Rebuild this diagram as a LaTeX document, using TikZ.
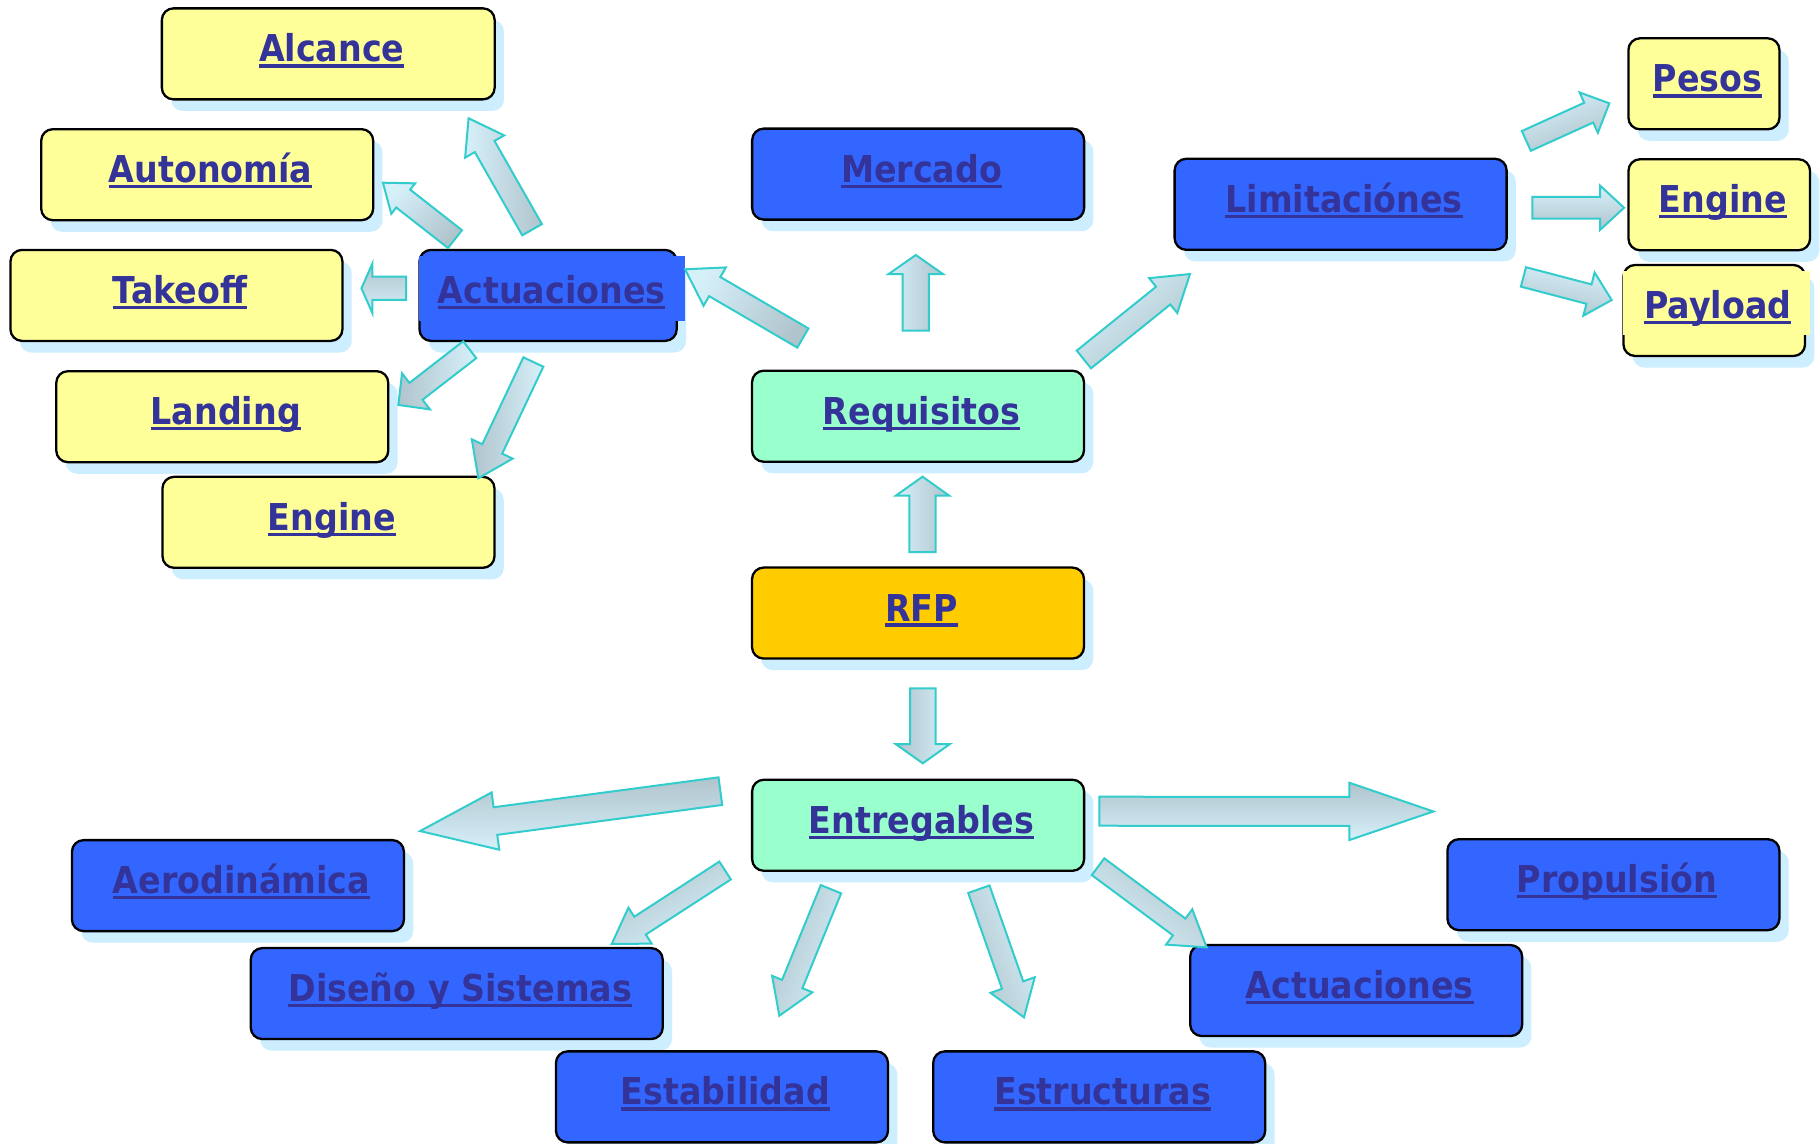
\documentclass[tikz,border=0pt]{standalone}
\usepackage{fontspec}
\newfontfamily\boxfont{DejaVu Sans}[FakeStretch=0.9]
\usetikzlibrary{calc,shadows}

\definecolor{boxyellow}{HTML}{FFFF99}
\definecolor{boxblue}{HTML}{3366FF}
\definecolor{boxgreen}{HTML}{99FFCC}
\definecolor{boxorange}{HTML}{FFCC00}
\definecolor{ttext}{HTML}{333399}
\definecolor{shadowc}{HTML}{CCEEFF}
\definecolor{aborder}{HTML}{33CCCC}
\definecolor{alight}{HTML}{D6F0FA}
\definecolor{agray}{HTML}{B0C4CC}

% underlined label with a heavy rule under the baseline, set a little right of centre
\newcommand\ulabel[1]{\hskip7pt\setbox0\hbox{#1}\rlap{\rule[-5.6pt]{\wd0}{3.3pt}}\box0}

% block arrow: tail, tip, shaft width, head width, head length, direction of the darker side
\newcommand\blockarrow[6]{%
  \pgfmathsetlengthmacro\baS{#3*0.58035}%
  \pgfmathsetlengthmacro\baH{#4*0.58035}%
  \pgfmathsetlengthmacro\baL{#5*1.1607}%
  \pgfmathsetmacro\baA{#6-90}%
  \coordinate (baN) at ($(#2)!\baL!(#1)$);
  \draw[barrow, top color=agray, bottom color=alight, shading angle=\baA]
    ($(#1)!\baS!90:(#2)$) -- ($(baN)!\baS!90:(#2)$) -- ($(baN)!\baH!90:(#2)$)
    -- (#2) -- ($(baN)!\baH!-90:(#2)$) -- ($(baN)!\baS!-90:(#2)$)
    -- ($(#1)!\baS!-90:(#2)$) -- cycle;
}

\tikzset{
  box/.style={rounded corners=11.6pt, draw=black, line width=2.3pt, inner sep=0pt,
    minimum width=332pt, minimum height=91pt,
    text height=26pt, text depth=9.8pt, text=ttext,
    font=\boxfont\bfseries\fontsize{37}{40}\selectfont,
    general shadow={fill=shadowc, shadow xshift=9.3pt, shadow yshift=-11.6pt}},
  lbl/.style={inner sep=0pt, text height=26pt, text depth=9.8pt, text=ttext,
    font=\boxfont\bfseries\fontsize{37}{40}\selectfont},
  barrow/.style={draw=aborder, line width=2pt, line join=miter},
}

\begin{document}
\begin{tikzpicture}[x=1.1607pt, y=-1.1607pt]
\useasboundingbox (0,0) rectangle (1568,985);
\fill[white] (0,0) rectangle (1568,985);

% --- left group: performance items
\node[box, fill=boxyellow, minimum width=332.8pt] (alcance) at (282.8,46.4) {\ulabel{Alcance}};
\node[box, fill=boxyellow] (autonomia) at (178.5,150.5) {\ulabel{Autonomía}};
\node[box, fill=boxyellow] (takeoff) at (152,254.5) {\ulabel{Takeoff}};
\node[box, fill=boxyellow] (landing) at (191.5,359) {\ulabel{Landing}};
\node[box, fill=boxyellow] (engineL) at (283,450) {\ulabel{Engine}};
\node[box, fill=boxblue, minimum width=257.3pt] (actL) at (472.2,254.5) {};
\fill[boxblue] (361.3,220.6) rectangle (590.2,276.3);
\node[lbl] (actLtxt) at (actL.center) {\ulabel{Actuaciones}};

% --- centre column
\node[box, fill=boxblue] (mercado) at (791,150) {\ulabel{Mercado}};
\node[box, fill=boxgreen] (requisitos) at (790.9,358.6) {\ulabel{Requisitos}};
\node[box, fill=boxorange] (rfp) at (790.9,528.2) {\ulabel{RFP}};
\node[box, fill=boxgreen] (entregables) at (791,711) {\ulabel{Entregables}};

% --- right group: constraints
\node[box, fill=boxblue] (limit) at (1155,176) {\ulabel{Limitaciónes}};
\node[box, fill=boxyellow, minimum width=151pt] (pesos) at (1468,72.2) {\ulabel{Pesos}};
\node[box, fill=boxyellow, minimum width=181.6pt] (engineR) at (1481.2,176.4) {\ulabel{Engine}};
\node[box, fill=boxyellow, minimum width=181.6pt] (payload) at (1476.9,267.5) {};
\fill[boxyellow] (1398.6,233.2) rectangle (1559.4,288.6);
\node[lbl] (payloadtxt) at (payload.center) {\ulabel{Payload}};

% --- deliverables
\node[box, fill=boxblue] (aero) at (205,763) {\ulabel{Aerodinámica}};
\node[box, fill=boxblue, minimum width=412pt] (diseno) at (393.5,856) {\ulabel{Diseño y Sistemas}};
\node[box, fill=boxblue] (estab) at (622,945) {\ulabel{Estabilidad}};
\node[box, fill=boxblue] (estruc) at (947,945) {\ulabel{Estructuras}};
\node[box, fill=boxblue] (actB) at (1168.4,853.4) {\ulabel{Actuaciones}};
\node[box, fill=boxblue] (propul) at (1390,762.2) {\ulabel{Propulsión}};

% --- arrow ends
\coordinate (aAl0) at (458.4,197.9);   \coordinate (aAl1) at (403.7,101.9);
\coordinate (aAu0) at (392,206);       \coordinate (aAu1) at (329.9,157.4);
\coordinate (aTk0) at (349.8,248.4);   \coordinate (aTk1) at (311.4,248.4);
\coordinate (aLd0) at (404.7,301.3);   \coordinate (aLd1) at (343.2,348.9);
\coordinate (aEL0) at (459.5,311.9);   \coordinate (aEL1) at (412.1,412.1);
\coordinate (aAc0) at (691.7,291.2);   \coordinate (aAc1) at (590.2,232);
\coordinate (aMe0) at (789,284.9);     \coordinate (aMe1) at (789,219.7);
\coordinate (aLi0) at (933.8,309.7);   \coordinate (aLi1) at (1025.2,236.1);
\coordinate (aPe0) at (1315,121.4);    \coordinate (aPe1) at (1386.5,89);
\coordinate (aER0) at (1320.2,179);    \coordinate (aER1) at (1399.2,179);
\coordinate (aPa0) at (1312.5,238.6);  \coordinate (aPa1) at (1388.5,258.5);
\coordinate (aRq0) at (794.8,475.6);   \coordinate (aRq1) at (794.8,410.7);
\coordinate (aEn0) at (795,593);       \coordinate (aEn1) at (795,657.6);
\coordinate (aAe0) at (620.6,681.6);   \coordinate (aAe1) at (361.9,716);
\coordinate (aPr0) at (947.1,698.9);   \coordinate (aPr1) at (1234.9,699.1);
\coordinate (aAB0) at (946,746.7);     \coordinate (aAB1) at (1039.6,816.2);
\coordinate (aDi0) at (624.7,750);     \coordinate (aDi1) at (527,813.3);
\coordinate (aSt0) at (715.9,766.1);   \coordinate (aSt1) at (671.4,875.1);
\coordinate (aSr0) at (843.3,766.1);   \coordinate (aSr1) at (882.2,876.5);

% --- block arrows
\blockarrow{aAl0}{aAl1}{19.5}{38.7}{28}{0}
\blockarrow{aAu0}{aAu1}{19.5}{33.3}{22.2}{-45}
\blockarrow{aTk0}{aTk1}{20}{43}{9.5}{90}
\blockarrow{aLd0}{aLd1}{18.4}{39.3}{19.2}{180}
\blockarrow{aEL0}{aEL1}{19}{38.9}{28}{180}
\blockarrow{aAc0}{aAc1}{19.1}{38.2}{29.6}{-30}
\blockarrow{aMe0}{aMe1}{22.7}{46.8}{16.4}{0}
\blockarrow{aLi0}{aLi1}{19.6}{38.6}{29.6}{-50}
\blockarrow{aPe0}{aPe1}{18.7}{38.2}{19.5}{-70}
\blockarrow{aER0}{aER1}{18.7}{38.2}{20.7}{-90}
\blockarrow{aPa0}{aPa1}{17.3}{38.5}{20.2}{-100}
\blockarrow{aRq0}{aRq1}{22.7}{46.2}{16.4}{0}
\blockarrow{aEn0}{aEn1}{22}{46.8}{16.6}{180}
\blockarrow{aAe0}{aAe1}{24}{49.8}{65.5}{90}
\blockarrow{aPr0}{aPr1}{25}{49.4}{72.4}{90}
\blockarrow{aAB0}{aAB1}{18}{37.9}{29.5}{53}
\blockarrow{aDi0}{aDi1}{18.3}{36.9}{29.1}{120}
\blockarrow{aSt0}{aSt1}{18.9}{37.5}{29.5}{160}
\blockarrow{aSr0}{aSr1}{19.4}{40.4}{29.5}{200}
\end{tikzpicture}
\end{document}
